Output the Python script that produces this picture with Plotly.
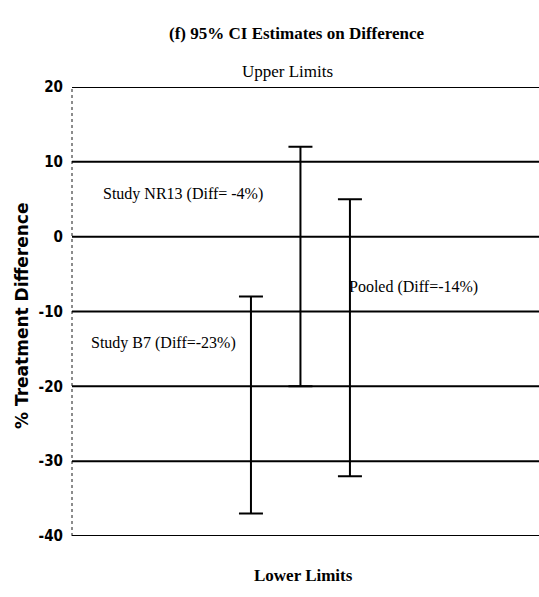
import plotly.graph_objects as go

# Data
studies = ["Study B7", "Study NR13", "Pooled"]
x_pos = [1, 2, 3]
diff = [-23, -4, -14]
upper = [-8, 12, 5]
lower = [-37, -20, -32]
label_text = ["Study B7 (Diff=-23%)", "Study NR13 (Diff= -4%)", "Pooled (Diff=-14%)"]
label_x = [-0.77, -0.37, 4.29]
label_y = [-14.2, 5.75, -6.7]
tick_vals = [20, 10, 0, -10, -20, -30, -40]
tick_text = ["20", "10", "0", "-10", "-20", "-30", "-40"]

err_plus = [u - d for u, d in zip(upper, diff)]
err_minus = [d - l for d, l in zip(diff, lower)]

fig = go.Figure()

# horizontal gridlines (including the 20 and -40 edges)
for tv in tick_vals:
    fig.add_shape(type="line", xref="paper", yref="y", x0=0, x1=1, y0=tv, y1=tv,
                  line=dict(color="black", width=2), layer="below")

fig.add_trace(go.Scatter(
    x=x_pos, y=diff, mode="markers",
    marker=dict(size=1, color="rgba(0,0,0,0)"),
    error_y=dict(type="data", array=err_plus, arrayminus=err_minus,
                 symmetric=False, color="black", thickness=2, width=12),
    showlegend=False, hoverinfo="skip",
))

serif = "Liberation Serif, Times New Roman, serif"
for t, lx, ly in zip(label_text, label_x, label_y):
    fig.add_annotation(x=lx, y=ly, xref="x", yref="y", text=t, showarrow=False,
                       font=dict(family=serif, size=16, color="black"))

fig.add_annotation(x=0.482, y=1.145, xref="paper", yref="paper",
                   text="<b>(f) 95% CI Estimates on Difference</b>", showarrow=False,
                   font=dict(family=serif, size=17, color="black"))
fig.add_annotation(x=0.4625, y=1.06, xref="paper", yref="paper",
                   text="Upper Limits", showarrow=False,
                   font=dict(family=serif, size=17, color="black"))
fig.add_annotation(x=0.495, y=-0.1136, xref="paper", yref="paper",
                   text="<b>Lower Limits</b>", showarrow=False,
                   font=dict(family=serif, size=17, color="black"))
fig.add_annotation(x=-0.107, y=0.49, xref="paper", yref="paper",
                   xanchor="center", yanchor="middle",
                   text="<b>% Treatment Difference</b>", showarrow=False, textangle=-90,
                   font=dict(family="DejaVu Sans, sans-serif", size=17, color="black"))

# dotted left axis line
fig.add_shape(type="line", xref="paper", yref="paper", x0=0, x1=0, y0=0, y1=1,
              line=dict(color="rgba(0,0,0,0.6)", width=1.5, dash="dot"))

fig.update_layout(
    width=539, height=597,
    margin=dict(l=72, r=0, t=87, b=61),
    paper_bgcolor="white", plot_bgcolor="white",
    xaxis=dict(range=[-2.616, 6.82], showgrid=False, zeroline=False,
               showticklabels=False, showline=False, ticks=""),
    yaxis=dict(range=[-40, 20], tickvals=tick_vals, ticktext=tick_text,
               showgrid=False, zeroline=False,
               showline=False, ticks="", ticklabelstandoff=8,
               tickfont=dict(family="Liberation Sans Narrow, DejaVu Sans Condensed, sans-serif",
                             size=15, color="black", weight="bold")),
)

fig.write_html("out.html")
